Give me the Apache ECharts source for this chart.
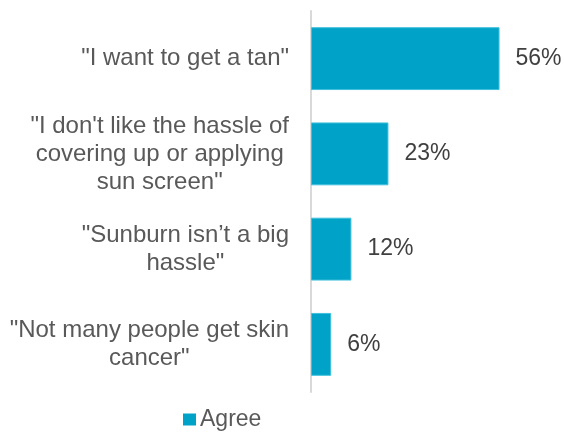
<!DOCTYPE html>
<html>
<head>
<meta charset="utf-8">
<script src="https://cdn.jsdelivr.net/npm/echarts@6/dist/echarts.min.js"></script>
<style>
  html, body { margin: 0; padding: 0; background: #fff; }
  #chart { width: 564px; height: 432px; }
</style>
</head>
<body>
<div id="chart"></div>
<script>
// 数据
const categories = [
  '"I want to get a tan"',
  '"I don\'t like the hassle of\ncovering up or applying\nsun screen"',
  '"Sunburn isn\u2019t a big\nhassle"',
  '"Not many people get skin\ncancer"'
];
const agree = [56, 23, 12, 6];
const seriesName = "Agree";

const chart = echarts.init(document.getElementById("chart"));
chart.setOption({
  backgroundColor: "#fff",
  textStyle: { fontFamily: "Liberation Sans, Arial, sans-serif" },
  animation: false,
  grid: { left: 311, top: 11, width: 202, height: 381 },
  legend: {
    data: [seriesName],
    left: 178,
    top: 403,
    icon: "rect",
    itemWidth: 13,
    itemHeight: 12,
    itemGap: 6,
    itemStyle: { borderWidth: 0 },
    textStyle: { color: "#595959", fontSize: 23, padding: [0, 0, 0, -1] }
  },
  xAxis: {
    type: "value",
    min: 0,
    max: 60,
    show: false
  },
  yAxis: {
    type: "category",
    inverse: true,
    data: categories,
    axisLine: { lineStyle: { color: "#d9d9d9", width: 2 } },
    axisTick: { show: false },
    axisLabel: {
      align: "right",
      margin: 22,
      formatter: (v) => "{c|" + v + "}",
      rich: {
        c: { color: "#595959", fontSize: 24, lineHeight: 28, align: "center" }
      }
    }
  },
  series: [
    {
      name: seriesName,
      type: "bar",
      data: agree,
      barCategoryGap: "34%",
      itemStyle: { color: "#00a3c7", borderColor: "#3fbfdc", borderWidth: 1 },
      label: {
        show: true,
        position: "right",
        distance: 16,
        color: "#404040",
        fontSize: 23,
        formatter: "{c}%"
      }
    }
  ]
});
</script>
</body>
</html>
